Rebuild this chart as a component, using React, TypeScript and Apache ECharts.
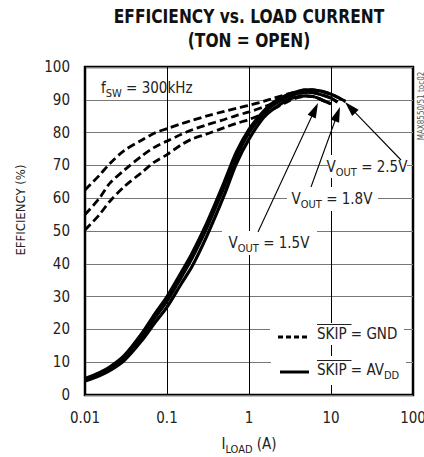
import React, { useEffect, useRef } from "react";
import * as echarts from "echarts";

const FONT = "'Liberation Sans Narrow', 'DejaVu Sans Condensed', 'Arial Narrow', sans-serif";

const xTickValues = [0.01, 0.1, 1, 10, 100];
const xTickLabels = ["0.01", "0.1", "1", "10", "100"];

const currentA = [0.01, 0.015, 0.02, 0.03, 0.05, 0.07, 0.1, 0.15, 0.2, 0.3, 0.5, 0.7, 1, 1.5, 2, 3, 4, 5, 6, 7, 8, 10, 12, 15];

// SKIP = AVDD (solid)
const solid25 = [5, 6.8, 8.5, 12, 19, 24.5, 30, 37.5, 43, 52, 65, 74, 81, 86.5, 89.3, 91.6, 92.6, 93, 93, 92.8, 92.5, 91.7, 90.8, 89.5];
const solid18 = [4.7, 6.4, 8, 11.4, 18, 23.3, 28.6, 36, 41.5, 50.5, 63.5, 72.5, 80, 85.8, 88.5, 91, 92, 92.3, 92.2, 91.8, 91.4, 90.5, 89.3];
const solid15 = [4.3, 5.9, 7.4, 10.5, 16.8, 21.8, 26.8, 34, 39, 48, 61, 70.5, 78, 84.5, 87.3, 90, 91, 91.2, 91, 90.5, 89.8, 88.8];

// SKIP = GND (dashed)
const dashed25 = [62.5, 67, 70.5, 74.5, 77.8, 79.8, 81.2, 82.7, 83.7, 85, 86.5, 87.4, 88.3, 89.5, 90.5, 91.8, 92.6, 93, 93, 92.8, 92.5, 91.7, 90.8, 89.5];
const dashed18 = [55, 60, 64.5, 68.5, 73, 75.5, 77.4, 79.5, 80.8, 82.3, 84, 85.2, 86.3, 87.8, 89, 90.8, 91.8, 92.2, 92.2, 91.8, 91.4, 90.5, 89.3];
const dashed15 = [50.3, 55, 59, 63.5, 68, 71, 73.3, 76.3, 78, 79.5, 81.5, 82.8, 84, 85.8, 87.2, 89.5, 90.7, 91.1, 91, 90.5, 89.8, 88.8];

const pairs = (ys: number[]) => ys.map((y, i) => [currentA[i], y]);

function arrow(sx: number, sy: number, tx: number, ty: number) {
  const dx = tx - sx, dy = ty - sy;
  const len = Math.hypot(dx, dy);
  const ux = dx / len, uy = dy / len;
  const L = 15, W = 4.5;
  const bx = tx - ux * L, by = ty - uy * L;
  return [
    { type: "line", z: 5, shape: { x1: sx, y1: sy, x2: bx + ux * 2, y2: by + uy * 2 }, style: { stroke: "#000", lineWidth: 1.1 } },
    {
      type: "polygon", z: 5,
      shape: { points: [[tx, ty], [bx - uy * W, by + ux * W], [bx + uy * W, by - ux * W]] },
      style: { fill: "#000" },
    },
  ];
}

const subRich = {
  n: { fontSize: 15, fontFamily: FONT, color: "#222", lineHeight: 20, verticalAlign: "middle" },
  s: { fontSize: 11, fontFamily: FONT, color: "#222", lineHeight: 22, verticalAlign: "bottom" },
};

function label(x: number, y: number, text: string, align = "center") {
  return {
    type: "text", z: 4, x, y,
    style: { text, rich: subRich, align, verticalAlign: "middle", fill: "#222" },
  };
}

export default function App() {
  const ref = useRef<HTMLDivElement>(null);
  useEffect(() => {
    if (!ref.current) return;
    const chart = echarts.init(ref.current, null, { renderer: "svg" });
    const solidStyle = { color: "#000", width: 3.2, type: "solid" };
    const dashStyle = { color: "#000", width: 2.8, type: [8, 4] };
    const mk = (name: string, ys: number[], style: any) => ({
      name, type: "line", data: pairs(ys), showSymbol: false, smooth: 0.3,
      lineStyle: style, itemStyle: { color: "#000" }, z: 3,
    });
    chart.setOption({
      animation: false,
      grid: {
        left: 85, right: 11, top: 67, bottom: 62, show: true, borderColor: "#000", borderWidth: 2.5,
        backgroundColor: "transparent", outerBoundsMode: "none", containLabel: false,
      },
      xAxis: {
        type: "log", logBase: 10, min: 0.01, max: 100,
        axisLine: { show: false },
        axisTick: { show: false },
        minorTick: { show: false },
        splitLine: { show: true, lineStyle: { color: "#000", width: 1 } },
        axisLabel: {
          fontSize: 15, fontFamily: FONT, color: "#222", margin: 15,
          formatter: (v: number) => {
            let best = 0;
            xTickValues.forEach((t, i) => { if (Math.abs(Math.log10(t) - Math.log10(v)) < Math.abs(Math.log10(xTickValues[best]) - Math.log10(v))) best = i; });
            return xTickLabels[best];
          },
        },
      },
      yAxis: {
        type: "value", min: 0, max: 100, interval: 10,
        axisLine: { show: false },
        axisTick: { show: false },
        splitLine: { show: true, lineStyle: { color: "#777", width: 1 } },
        axisLabel: { fontSize: 15, fontFamily: FONT, color: "#222", margin: 15 },
      },
      series: [
        mk("d15", dashed15, dashStyle),
        mk("d18", dashed18, dashStyle),
        mk("d25", dashed25, dashStyle),
        mk("s15", solid15, solidStyle),
        mk("s18", solid18, solidStyle),
        mk("s25", solid25, solidStyle),
      ],
      graphic: [
        { type: "text", x: 249, y: 16, scaleX: 0.86, style: { text: "EFFICIENCY vs. LOAD CURRENT", font: `bold 20px ${FONT}`, fill: "#111", align: "center", verticalAlign: "middle" } },
        { type: "text", x: 249, y: 40, scaleX: 0.86, style: { text: "(TON = OPEN)", font: `bold 20px ${FONT}`, fill: "#111", align: "center", verticalAlign: "middle" } },
        { type: "text", x: 20, y: 210, rotation: Math.PI / 2, style: { text: "EFFICIENCY (%)", font: `13px ${FONT}`, fill: "#222", align: "center", verticalAlign: "middle" } },
        { type: "text", x: 421, y: 106, rotation: Math.PI / 2, style: { text: "MAX8550/51 toc02", font: `8px ${FONT}`, fill: "#555", align: "center", verticalAlign: "middle" } },
        label(249, 444, "{n|I}{s|LOAD}{n| (A)}"),
        label(101, 88, "{n|f}{s|SW}{n| = 300kHz}", "left"),
        // white boxes behind V_OUT labels
        { type: "rect", z: 1, shape: { x: 328, y: 155, width: 79, height: 23 }, style: { fill: "#fff" } },
        { type: "rect", z: 1, shape: { x: 287, y: 187, width: 91, height: 24 }, style: { fill: "#fff" } },
        { type: "rect", z: 1, shape: { x: 222, y: 231, width: 95, height: 24 }, style: { fill: "#fff" } },
        label(367, 167, "{n|V}{s|OUT}{n| = 2.5V}"),
        label(332, 199, "{n|V}{s|OUT}{n| = 1.8V}"),
        label(269, 243, "{n|V}{s|OUT}{n| = 1.5V}"),
        ...arrow(401, 160, 345, 102),
        ...arrow(311, 187, 340, 107),
        ...arrow(258, 232, 318, 103),
        // legend
        { type: "rect", z: 1, shape: { x: 270, y: 323, width: 134, height: 22 }, style: { fill: "#fff" } },
        { type: "rect", z: 1, shape: { x: 271, y: 356, width: 135, height: 29 }, style: { fill: "#fff" } },
        { type: "line", z: 4, shape: { x1: 278, y1: 337, x2: 307, y2: 337 }, style: { stroke: "#000", lineWidth: 2.8, lineDash: [5, 3] } },
        { type: "line", z: 4, shape: { x1: 280, y1: 372, x2: 309, y2: 372 }, style: { stroke: "#000", lineWidth: 3 } },
        label(317, 334, "{n|SKIP = GND}", "left"),
        label(317, 370, "{n|SKIP = AV}{s|DD}", "left"),
        { type: "line", z: 4, shape: { x1: 317, y1: 324.5, x2: 351.5, y2: 324.5 }, style: { stroke: "#222", lineWidth: 1 } },
        { type: "line", z: 4, shape: { x1: 317, y1: 360.5, x2: 351.5, y2: 360.5 }, style: { stroke: "#222", lineWidth: 1 } },
      ],
    });
    return () => chart.dispose();
  }, []);
  return <div ref={ref} style={{ width: 424, height: 457, position: "absolute", left: 0, top: 0 }} />;
}
